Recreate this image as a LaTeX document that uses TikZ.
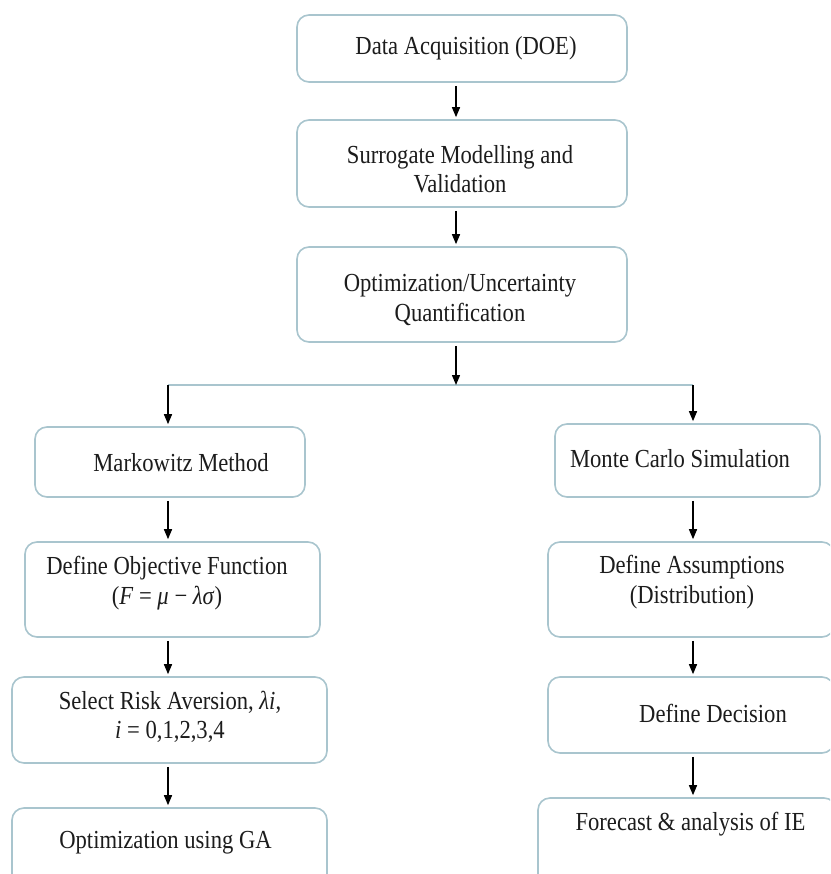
\documentclass[tikz,border=0pt]{standalone}
\usepackage{fontspec}
\setmainfont[FakeStretch=0.87]{Liberation Serif}
\usetikzlibrary{arrows.meta}
\definecolor{boxline}{HTML}{A9C5CE}
\definecolor{txtcol}{HTML}{1C1C1C}
\begin{document}
\begin{tikzpicture}[x=1pt,y=-1pt,
  box/.style={draw=boxline, line width=1.6pt, rounded corners=12pt, inner sep=0pt, fill=white},
  txt/.style={font=\fontsize{26}{29.5}\selectfont, align=center, inner sep=0pt, text=txtcol},
  arr/.style={-{Triangle[length=10pt,width=8pt]}, line width=1.4pt, black, shorten <=3pt, shorten >=2pt},
  branch/.style={draw=boxline, line width=1.6pt}]
\useasboundingbox (0,0) rectangle (830,874);
\fill[white] (0,0) rectangle (830,874);
\begin{scope}
\clip (0,0) rectangle (830,874);
% boxes
\node[box, minimum width=330pt, minimum height=67pt] (b1) at (462,48.5) {};
\node[box, minimum width=330pt, minimum height=87pt] (b2) at (462,163.5) {};
\node[box, minimum width=330pt, minimum height=95pt] (b3) at (462,294.5) {};
\node[box, minimum width=270pt, minimum height=70pt] (m1) at (170,462) {};
\node[box, minimum width=295pt, minimum height=95pt] (m2) at (172.5,589.5) {};
\node[box, minimum width=315pt, minimum height=86pt] (m3) at (169.5,720) {};
\node[box, minimum width=315pt, minimum height=92pt] (m4) at (169.5,854) {};
\node[box, minimum width=265pt, minimum height=73pt] (r1) at (687.5,460.5) {};
\node[box, minimum width=286pt, minimum height=95pt] (r2) at (691,589.5) {};
\node[box, minimum width=286pt, minimum height=76pt] (r3) at (691,715) {};
\node[box, minimum width=298pt, minimum height=102pt] (r4) at (687,849) {};
% texts
\node[txt] (t1) at (466,48) {Data Acquisition (DOE)};
\node[txt] (t2) at (460,169) {Surrogate Modelling and\\Validation};
\node[txt] (t3) at (460,300) {Optimization/Uncertainty\\Quantification};
\node[txt] (t4) at (181,463) {Markowitz Method};
\node[txt] (t5) at (167,583) {Define Objective Function\\(\textit{F} = \textit{μ} − \textit{λσ})};
\node[txt] (t6) at (170,717) {Select Risk Aversion, \textit{λi},\\\textit{i} = 0,1,2,3,4};
\node[txt] (t7) at (165.5,843) {Optimization using GA};
\node[txt] (t8) at (680,459) {Monte Carlo Simulation};
\node[txt] (t9) at (692,582) {Define Assumptions\\(Distribution)};
\node[txt] (t10) at (713,713) {Define Decision};
\node[txt] (t11) at (690.5,824) {Forecast \& analysis of IE};
% connector coordinates
\coordinate (cx) at (456,0);
\coordinate (lx) at (168,0);
\coordinate (rx) at (693,0);
\coordinate (jm) at (456,385);
\coordinate (jl) at (168,385);
\coordinate (jr) at (693,385);
% connectors
\draw[arr] (b1.south -| cx) -- (b2.north -| cx);
\draw[arr] (b2.south -| cx) -- (b3.north -| cx);
\draw[branch] (jl) -- (jr);
\draw[arr, shorten >=0pt] (b3.south -| cx) -- (jm);
\draw[arr, shorten <=0pt] (jl) -- (jl |- m1.north);
\draw[arr, shorten <=0pt] (jr) -- (jr |- r1.north);
\draw[arr] (m1.south -| lx) -- (m2.north -| lx);
\draw[arr] (m2.south -| lx) -- (m3.north -| lx);
\draw[arr] (m3.south -| lx) -- (m4.north -| lx);
\draw[arr] (r1.south -| rx) -- (r2.north -| rx);
\draw[arr] (r2.south -| rx) -- (r3.north -| rx);
\draw[arr] (r3.south -| rx) -- (r4.north -| rx);
\end{scope}
\end{tikzpicture}
\end{document}
